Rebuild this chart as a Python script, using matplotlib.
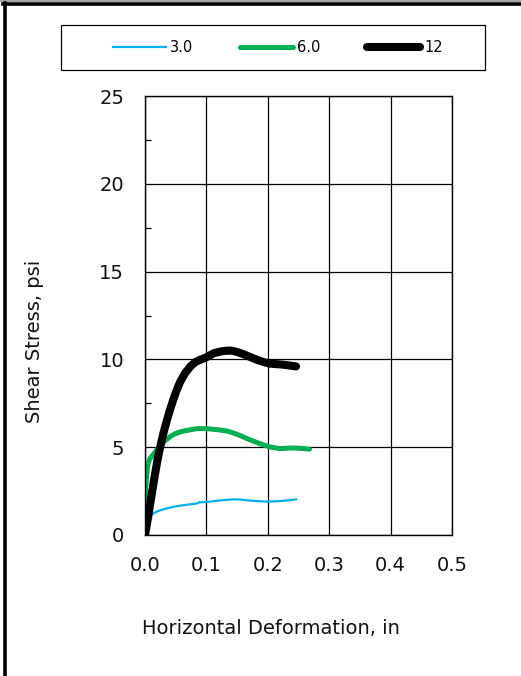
import matplotlib
matplotlib.use("Agg")
import matplotlib.pyplot as plt
from matplotlib.lines import Line2D
from matplotlib.patches import Rectangle
from matplotlib.ticker import MultipleLocator

# normal stress 3.0 psi
x_3 = [0, 0.003, 0.008, 0.013, 0.019, 0.027, 0.036, 0.046, 0.057, 0.07, 0.085, 0.088,
       0.1, 0.117, 0.128, 0.144, 0.155, 0.171, 0.198, 0.219, 0.235, 0.246]
y_3 = [0, 0.47, 1.04, 1.22, 1.33, 1.43, 1.52, 1.6, 1.67, 1.73, 1.8, 1.86,
       1.88, 1.95, 1.99, 2.03, 2.02, 1.96, 1.9, 1.93, 1.98, 2.03]

# normal stress 6.0 psi
x_6 = [0, 0.0005, 0.001, 0.002, 0.0035, 0.005, 0.008, 0.014, 0.018, 0.025, 0.032, 0.041,
       0.048, 0.057, 0.07, 0.085, 0.1, 0.117, 0.134, 0.145, 0.156, 0.166, 0.177, 0.187,
       0.203, 0.219, 0.241, 0.255, 0.268]
y_6 = [0, 1.6, 2.55, 3.1, 3.7, 4.07, 4.35, 4.6, 4.8, 5.1, 5.35, 5.6,
       5.75, 5.87, 5.97, 6.06, 6.06, 6.0, 5.92, 5.8, 5.65, 5.49, 5.34, 5.2,
       5.02, 4.92, 4.96, 4.93, 4.89]

# normal stress 12 psi
x_12 = [0, 0.005, 0.01, 0.015, 0.02, 0.025, 0.03, 0.035, 0.04, 0.046, 0.051, 0.057,
        0.065, 0.074, 0.082, 0.09, 0.1, 0.112, 0.123, 0.134, 0.141, 0.15, 0.16, 0.171,
        0.182, 0.193, 0.203, 0.214, 0.225, 0.236, 0.246]
y_12 = [0, 1.0, 2.1, 3.2, 4.2, 5.05, 5.8, 6.45, 7.05, 7.7, 8.2, 8.7,
        9.2, 9.6, 9.85, 9.98, 10.12, 10.35, 10.45, 10.5, 10.5, 10.42, 10.3, 10.14,
        9.98, 9.85, 9.76, 9.73, 9.7, 9.65, 9.6]

labels = ["3.0", "6.0", "12"]

W, H = 521, 676
fig = plt.figure(figsize=(W / 100, H / 100), dpi=100)
ax = fig.add_axes([145 / W, 1 - 535 / H, 307 / W, 439 / H])

ax.plot(x_3, y_3, color="#00B0F0", lw=1.6, label=labels[0])
ax.plot(x_6, y_6, color="#00B050", lw=3.6, label=labels[1], solid_capstyle="round",
        solid_joinstyle="round")
ax.plot(x_12, y_12, color="black", lw=5.8, label=labels[2], solid_capstyle="round",
        solid_joinstyle="round")

ax.set_xlim(0, 0.5)
ax.set_ylim(0, 25)
ax.xaxis.set_major_locator(MultipleLocator(0.1))
ax.yaxis.set_major_locator(MultipleLocator(5))
ax.yaxis.set_minor_locator(MultipleLocator(2.5))
ax.xaxis.set_major_formatter(matplotlib.ticker.FormatStrFormatter("%.1f"))
ax.grid(True, which="major", color="black", lw=0.9)
ax.tick_params(which="major", length=0, pad=15, labelsize=14, colors="#111111")
ax.tick_params(axis="y", which="minor", direction="in", length=4, width=0.9)
for s in ax.spines.values():
    s.set_linewidth(1.0)

fig.text(271 / W, 1 - 628 / H, "Horizontal Deformation, in", ha="center", va="center",
         fontsize=14, color="#111111")
fig.text(35 / W, 1 - 341 / H, "Shear Stress, psi", ha="center", va="center",
         rotation=90, fontsize=14, color="#111111")

# legend box
fig.patches.append(Rectangle((61 / W, 1 - 70 / H), 424 / W, 45 / H, transform=fig.transFigure,
                             fill=False, edgecolor="black", lw=0.9))
handles, labs = ax.get_legend_handles_labels()
fig.legend(handles, labs, loc="center", bbox_to_anchor=(278 / W, 1 - 47.5 / H), ncol=3,
           frameon=False, fontsize=10.5, handlelength=3.6, handletextpad=0.3,
           columnspacing=3.2)

# outer border lines
fig.add_artist(Line2D([0, 1], [1 - 0.6 / H, 1 - 0.6 / H], transform=fig.transFigure,
                      color="#999999", lw=1.2))
fig.add_artist(Line2D([3 / W, 1], [1 - 4 / H, 1 - 4 / H], transform=fig.transFigure,
                      color="black", lw=2.6))
fig.add_artist(Line2D([4.5 / W, 4.5 / W], [0, 1 - 3 / H], transform=fig.transFigure,
                      color="black", lw=2.6))

fig.savefig("out.png", dpi=100)
